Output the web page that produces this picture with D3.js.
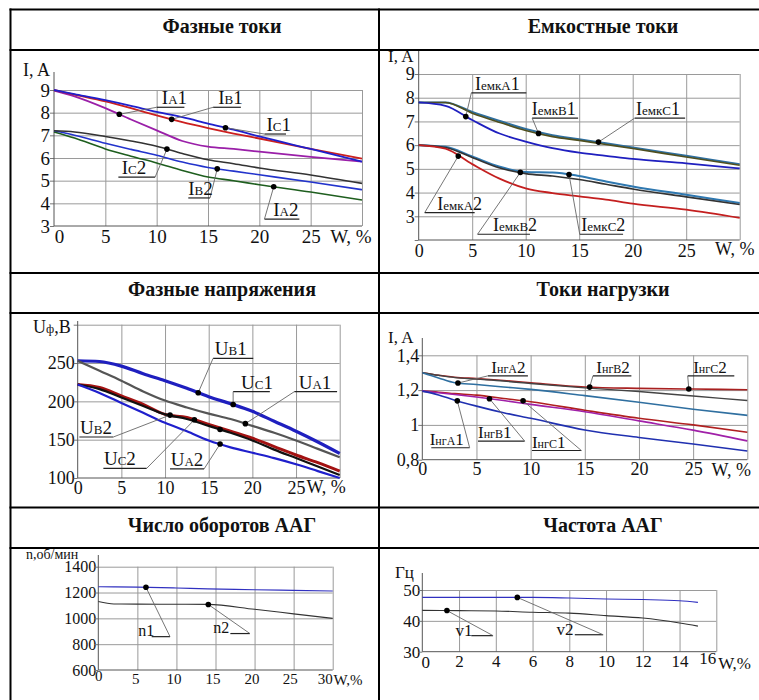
<!DOCTYPE html>
<html>
<head>
<meta charset="utf-8">
<script src="https://cdnjs.cloudflare.com/ajax/libs/d3/7.8.5/d3.min.js"></script>
<style>
  body { margin: 0; background: #fff; }
  #chart text { font-family: "Liberation Serif", "DejaVu Serif", "Times New Roman", serif !important; fill: #111; }
</style>
</head>
<body>
<svg id="chart" width="759" height="700" font-family="Liberation Serif, DejaVu Serif, serif"></svg>
<script>
// ---------- data ----------
// Фазные токи
const phaseW = [0, 2, 5, 7.5, 10, 12.5, 15, 17.5, 20, 25, 30];
const phaseIA1 = [8.97, 8.72, 8.2, 7.7, 7.22, 6.75, 6.5, 6.4, 6.28, 6.05, 5.84];
const phaseIB1 = [9.0, 8.8, 8.5, 8.2, 7.88, 7.58, 7.32, 7.08, 6.86, 6.4, 5.97];
const phaseIC1 = [9.0, 8.82, 8.55, 8.3, 8.03, 7.8, 7.52, 7.25, 6.95, 6.4, 5.84];
const phaseIA2 = [7.15, 6.88, 6.4, 6.08, 5.78, 5.45, 5.16, 5.0, 4.82, 4.5, 4.15];
const phaseIB2 = [7.2, 7.0, 6.65, 6.38, 6.12, 5.82, 5.58, 5.42, 5.26, 4.94, 4.6];
const phaseIC2 = [7.2, 7.15, 6.95, 6.75, 6.52, 6.2, 5.92, 5.75, 5.56, 5.25, 4.88];

// Емкостные токи
const capW = [0, 2.5, 5, 7.5, 10, 12.5, 15, 17.5, 20, 25, 30];
const capC1 = [7.8, 7.8, 7.4, 7.03, 6.68, 6.42, 6.25, 6.08, 5.9, 5.55, 5.2];
const capB1 = [7.8, 7.8, 7.35, 6.97, 6.62, 6.36, 6.2, 6.03, 5.86, 5.5, 5.15];
const capA1 = [7.8, 7.66, 7.06, 6.5, 6.15, 5.87, 5.68, 5.55, 5.42, 5.23, 5.02];
const capC2 = [6.0, 5.93, 5.52, 5.1, 4.87, 4.85, 4.7, 4.47, 4.26, 3.91, 3.56];
const capB2 = [6.0, 5.9, 5.48, 5.05, 4.8, 4.7, 4.55, 4.35, 4.15, 3.82, 3.5];
const capA2 = [6.0, 5.85, 5.2, 4.6, 4.18, 3.98, 3.84, 3.7, 3.53, 3.28, 2.93];

// Фазные напряжения
const voltW = [0, 2.5, 5, 7.5, 10, 12.5, 15, 17.5, 20, 22.5, 25, 27.5, 30];
const voltU1 = [253, 252, 246, 236, 227, 217, 206, 197, 187, 174, 161, 147, 132];
const voltUA1 = [253, 240, 227, 213, 201, 192, 184, 177, 168, 159, 149, 138, 127];
const voltUB2 = [222, 218, 207, 196, 183, 179, 170, 161, 152, 141, 130, 120, 109];
const voltUC2 = [222, 216, 205, 194, 183, 177, 168, 159, 149, 137, 126, 115, 104];
const voltUA2 = [222, 211, 198, 185, 172, 161, 149, 140, 133, 126, 118, 109, 100];

// Токи нагрузки
const loadW = [0, 1.5, 3, 5, 7.5, 10, 15, 20, 25, 30];
const loadC2 = [1.30, 1.285, 1.274, 1.266, 1.255, 1.242, 1.218, 1.21, 1.206, 1.202];
const loadB2 = [1.30, 1.285, 1.272, 1.263, 1.252, 1.238, 1.213, 1.192, 1.166, 1.14];
const loadA2 = [1.30, 1.27, 1.242, 1.232, 1.218, 1.204, 1.168, 1.13, 1.09, 1.055];
const loadC1 = [1.194, 1.188, 1.18, 1.171, 1.152, 1.133, 1.084, 1.038, 1.0, 0.958];
const loadB1 = [1.194, 1.185, 1.175, 1.16, 1.14, 1.118, 1.076, 1.023, 0.97, 0.908];
const loadA1 = [1.194, 1.172, 1.142, 1.108, 1.07, 1.038, 0.971, 0.928, 0.89, 0.85];

// Число оборотов ААГ
const revW = [0, 2, 5, 10, 14, 20, 25, 30];
const revN1 = [1245, 1244, 1242, 1235, 1228, 1222, 1217, 1212];
const revN2 = [1130, 1111, 1110, 1109, 1108, 1070, 1035, 1000];

// Частота ААГ
const freqW = [0, 2, 4, 6, 8, 10, 12, 14, 15];
const freqV2 = [47.6, 47.6, 47.6, 47.6, 47.4, 47.1, 46.9, 46.5, 46.0];
const freqV1 = [43.4, 43.3, 43.2, 42.8, 42.5, 41.7, 40.9, 39.3, 38.3];

// ticks
const ticksW30 = [0, 5, 10, 15, 20, 25, 30];
const ticksW16 = [0, 2, 4, 6, 8, 10, 12, 14, 16];
const phaseTicksI = [3, 4, 5, 6, 7, 8, 9];
const capTicksI = [2, 3, 4, 5, 6, 7, 8, 9];
const voltTicksU = [100, 150, 200, 250, 300];
const loadTicksI = [0.8, 1.0, 1.2, 1.4];
const revTicksN = [600, 800, 1000, 1200, 1400];
const freqTicksF = [30, 40, 50];

// ---------- drawing ----------
const svg = d3.select('#chart');

function textParts(sel, parts, big, small) {
  parts.forEach(([s, isSmall]) => {
    sel.append('tspan').attr('font-size', isSmall ? small : big).text(s);
  });
}

function interp(xs, ys, w) {
  for (let i = 1; i < xs.length; i++) {
    if (w <= xs[i]) {
      const t = (w - xs[i - 1]) / (xs[i] - xs[i - 1]);
      return ys[i - 1] + t * (ys[i] - ys[i - 1]);
    }
  }
  return ys[ys.length - 1];
}

function drawPanel(p) {
  const x = d3.scaleLinear().domain(p.xDomain).range(p.xRange);
  const y = d3.scaleLinear().domain(p.yDomain).range(p.yRange);
  const w = p.xRange[1] - p.xRange[0], h = p.yRange[0] - p.yRange[1];
  const g = svg.append('g');

  // title
  svg.append('text').attr('x', p.titleX).attr('y', p.titleY)
    .attr('text-anchor', 'middle').attr('font-weight', 'bold').attr('font-size', 20)
    .text(p.title);

  // y axis: grid + labels
  const ya = g.append('g').attr('transform', `translate(${p.xRange[0]},0)`)
    .call(d3.axisLeft(y).tickValues(p.yTicks).tickSize(-w).tickPadding(p.yPad)
      .tickFormat(d => p.yLabelled.includes(d) ? p.yFmt(d) : ''));
  ya.attr('font-size', null).attr('font-family', null);
  ya.select('.domain').remove();
  ya.selectAll('.tick line').attr('stroke', d => d === p.yDomain[0] ? 'none' : '#9a9a9a');
  ya.selectAll('.tick').append('line').attr('x2', -4).attr('stroke', '#777');
  ya.selectAll('.tick text').style('font-size', p.fsY + 'px');

  // x axis: grid + labels
  const xa = g.append('g').attr('transform', `translate(0,${p.yRange[0]})`)
    .call(d3.axisBottom(x).tickValues(p.xTicks).tickSize(-h).tickPadding(p.xPad)
      .tickFormat(d => p.xLabelled.includes(d) ? d : ''));
  xa.attr('font-size', null).attr('font-family', null);
  xa.select('.domain').remove();
  xa.selectAll('.tick line').attr('stroke', d => d === p.xDomain[0] ? 'none' : '#9a9a9a');
  xa.selectAll('.tick text').style('font-size', p.fsX + 'px')
    .attr('dx', d => (p.xShift[d] || [0, 0])[0])
    .attr('y', d => p.xPad + (p.xShift[d] || [0, 0])[1]);

  // axis lines
  g.append('line').attr('x1', p.xRange[0]).attr('x2', p.xRange[0])
    .attr('y1', p.yRange[0]).attr('y2', p.axisTop).attr('stroke', '#555');
  g.append('line').attr('x1', p.xRange[0]).attr('x2', p.xRange[1])
    .attr('y1', p.yRange[0]).attr('y2', p.yRange[0]).attr('stroke', '#555');

  // axis titles
  const yl = g.append('text').attr('x', p.yTitle[1]).attr('y', p.yTitle[2]);
  textParts(yl, p.yTitle[0], p.fsT, p.fsT * 0.7);
  g.append('text').attr('x', x(p.unitW)).attr('y', p.yRange[0] + p.unitDy)
    .style('font-size', p.fsX + 'px').text(p.unit);

  // series
  const line = d3.line().x(d => x(d[0])).y(d => y(d[1])).curve(d3.curveMonotoneX);
  p.series.forEach(s => {
    g.append('path').datum(p.w.map((ww, i) => [ww, s.v[i]]))
      .attr('d', line).attr('fill', 'none')
      .attr('stroke', s.c).attr('stroke-width', s.sw)
      .attr('stroke-linejoin', 'round');
  });

  // labels with leader lines
  p.labels.forEach(l => {
    const dx = x(l.dot[1]);
    const dy = y(interp(p.w, p.series[l.dot[0]].v, l.dot[1]));
    if (l.t) {
      const tx = x(l.at[0]), ty = y(l.at[1]);
      const uy = ty + p.ulOff;
      g.append('line').attr('x1', x(l.ul[0])).attr('x2', x(l.ul[1]))
        .attr('y1', uy).attr('y2', uy).attr('stroke', '#222').attr('stroke-width', 1.2);
      g.append('line').attr('x1', dx).attr('y1', dy)
        .attr('x2', x(l.ul[l.end])).attr('y2', uy)
        .attr('stroke', '#666').attr('stroke-width', 0.9);
      const t = g.append('text').attr('x', tx).attr('y', ty);
      textParts(t, l.t, p.fsL, p.fsS);
    }
    g.append('circle').attr('cx', dx).attr('cy', dy).attr('r', 2.8).attr('fill', '#000');
  });
}

const lab = (main, sub, num) => [[main, 0], [sub, 1], [num, 0]];
const labEmk = (ph, num) => [['I', 0], ['емк', 1], [ph, 1], [num, 0]];
const labNg = (ph, num) => [['I', 0], ['нг', 1], [ph, 1], [num, 0]];

const panels = [
  {
    title: 'Фазные токи', titleX: 222, titleY: 33,
    xRange: [54, 362], yRange: [226, 90], xDomain: [0, 30], yDomain: [3, 9], axisTop: 72,
    xTicks: ticksW30, xLabelled: [0, 5, 10, 15, 20, 25], yTicks: phaseTicksI, yLabelled: phaseTicksI,
    yFmt: d => d, yPad: 4, xPad: 4, xShift: {0: [5, 0]}, fsX: 19, fsY: 19, fsT: 18, fsL: 19, fsS: 13, ulOff: 3,
    yTitle: [[['I, A', 0]], 23, 76], unit: 'W, %', unitW: 26.9, unitDy: 17,
    w: phaseW,
    series: [
      {v: phaseIA1, c: '#9a1fa8', sw: 1.8},
      {v: phaseIB1, c: '#cc1f1f', sw: 1.8},
      {v: phaseIC1, c: '#1f1fcc', sw: 1.8},
      {v: phaseIA2, c: '#1e5e1e', sw: 1.6},
      {v: phaseIB2, c: '#2233cc', sw: 1.6},
      {v: phaseIC2, c: '#333333', sw: 1.6}
    ],
    labels: [
      {t: lab('I', 'A', '1'), at: [10.5, 8.37], ul: [10.0, 12.7], end: 0, dot: [0, 6.36]},
      {t: lab('I', 'B', '1'), at: [16.0, 8.37], ul: [15.5, 18.2], end: 0, dot: [1, 11.46]},
      {t: lab('I', 'C', '1'), at: [20.7, 7.19], ul: [20.5, 22.6], end: 0, dot: [2, 16.7]},
      {t: lab('I', 'C', '2'), at: [6.59, 5.29], ul: [6.27, 9.85], end: 1, dot: [5, 11]},
      {t: lab('I', 'B', '2'), at: [13.08, 4.37], ul: [13.08, 15.2], end: 1, dot: [4, 15.9]},
      {t: lab('I', 'A', '2'), at: [21.36, 3.44], ul: [20.5, 23.9], end: 0, dot: [3, 21.4]}
    ]
  },
  {
    title: 'Емкостные токи', titleX: 603, titleY: 33,
    xRange: [418.7, 739.7], yRange: [240, 74], xDomain: [0, 30], yDomain: [2, 9], axisTop: 50,
    xTicks: ticksW30, xLabelled: [0, 5, 10, 15, 20, 25], yTicks: capTicksI, yLabelled: [3, 4, 5, 6, 7, 8, 9],
    yFmt: d => d, yPad: 4, xPad: 4, xShift: {}, fsX: 18, fsY: 18, fsT: 17, fsL: 18, fsS: 13, ulOff: 3,
    yTitle: [[['I, A', 0]], 388, 62], unit: 'W, %', unitW: 27.7, unitDy: 15,
    w: capW,
    series: [
      {v: capC1, c: '#2f6f9f', sw: 2},
      {v: capB1, c: '#4f4f1f', sw: 1.6},
      {v: capA1, c: '#1f1fbf', sw: 1.8},
      {v: capC2, c: '#2f78b0', sw: 2},
      {v: capB2, c: '#333333', sw: 1.6},
      {v: capA2, c: '#c41f1f', sw: 1.8}
    ],
    labels: [
      {t: labEmk('A', '1'), at: [5.26, 8.33], ul: [4.92, 10.06], end: 0, dot: [2, 4.4]},
      {t: labEmk('B', '1'), at: [10.56, 7.27], ul: [10.6, 14.9], end: 0, dot: [1, 11.2]},
      {t: labEmk('C', '1'), at: [20.3, 7.27], ul: [20.2, 24.9], end: 0, dot: [0, 16.8]},
      {t: labEmk('A', '2'), at: [1.74, 3.28], ul: [0.56, 5.23], end: 0, dot: [5, 3.7]},
      {t: labEmk('B', '2'), at: [6.95, 2.37], ul: [5.5, 10.4], end: 0, dot: [4, 9.5]},
      {t: labEmk('C', '2'), at: [15.2, 2.37], ul: [15.05, 19.1], end: 0, dot: [3, 14.05]}
    ]
  },
  {
    title: 'Фазные напряжения', titleX: 222, titleY: 296,
    xRange: [77.7, 339.7], yRange: [478, 324.7], xDomain: [0, 30], yDomain: [100, 300], axisTop: 321,
    xTicks: ticksW30, xLabelled: [0, 5, 10, 15, 20, 25], yTicks: voltTicksU, yLabelled: [100, 150, 200, 250],
    yFmt: d => d, yPad: 3, xPad: 3, xShift: {}, fsX: 18, fsY: 18, fsT: 18, fsL: 19, fsS: 13, ulOff: 3,
    yTitle: [[['U', 0], ['ф', 1], [',B', 0]], 33, 333], unit: 'W, %', unitW: 26.2, unitDy: 15,
    w: voltW,
    series: [
      {v: voltU1, c: '#1f1fbf', sw: 3.2},
      {v: voltUA1, c: '#555555', sw: 2.2},
      {v: voltUB2, c: '#a31212', sw: 3},
      {v: voltUC2, c: '#111111', sw: 2.2},
      {v: voltUA2, c: '#1f1fcc', sw: 2.2}
    ],
    labels: [
      {t: lab('U', 'B', '1'), at: [15.7, 260], ul: [15.5, 20.1], end: 0, dot: [0, 13.8]},
      {t: lab('U', 'C', '1'), at: [18.7, 216.5], ul: [17.8, 22.0], end: 0, dot: [0, 17.8]},
      {t: lab('U', 'A', '1'), at: [25.3, 216.5], ul: [24.8, 29.7], end: 0, dot: [1, 19.2]},
      {t: lab('U', 'B', '2'), at: [0.27, 157.4], ul: [0.19, 4.08], end: 1, dot: [2, 10.57]},
      {t: lab('U', 'C', '2'), at: [3.0, 116.5], ul: [2.94, 7.9], end: 1, dot: [2, 13.36]},
      {t: lab('U', 'A', '2'), at: [10.65, 115.7], ul: [10.57, 14.47], end: 1, dot: [4, 16.3]},
      {t: null, dot: [3, 16.3]}
    ]
  },
  {
    title: 'Токи нагрузки', titleX: 603, titleY: 296,
    xRange: [422.3, 747.3], yRange: [459.7, 355.3], xDomain: [0, 30], yDomain: [0.8, 1.4], axisTop: 338,
    xTicks: ticksW30, xLabelled: [0, 5, 10, 15, 20, 25], yTicks: loadTicksI, yLabelled: loadTicksI,
    yFmt: d => String(d).replace('.', ','), yPad: 3, xPad: 3, xShift: {}, fsX: 18, fsY: 18, fsT: 17, fsL: 17, fsS: 12, ulOff: 3,
    yTitle: [[['I, A', 0]], 388, 343], unit: 'W, %', unitW: 26.7, unitDy: 16,
    w: loadW,
    series: [
      {v: loadC2, c: '#a82020', sw: 1.6},
      {v: loadB2, c: '#444444', sw: 1.4},
      {v: loadA2, c: '#2f6fa0', sw: 1.6},
      {v: loadC1, c: '#b02020', sw: 1.6},
      {v: loadB1, c: '#a020a8', sw: 1.6},
      {v: loadA1, c: '#2030b0', sw: 1.6}
    ],
    labels: [
      {t: labNg('A', '2'), at: [6.37, 1.299], ul: [6.06, 9.75], end: 0, dot: [2, 3.29]},
      {t: labNg('B', '2'), at: [16.06, 1.299], ul: [15.75, 19.3], end: 0, dot: [0, 15.45]},
      {t: labNg('C', '2'), at: [25.0, 1.299], ul: [24.5, 28.8], end: 0, dot: [0, 24.6]},
      {t: labNg('A', '1'), at: [0.68, 0.886], ul: [0.83, 4.37], end: 1, dot: [5, 3.23]},
      {t: labNg('B', '1'), at: [5.14, 0.924], ul: [5.14, 9.45], end: 1, dot: [4, 6.2]},
      {t: labNg('C', '1'), at: [10.12, 0.87], ul: [10.12, 14.68], end: 1, dot: [3, 9.3]}
    ]
  },
  {
    title: 'Число оборотов ААГ', titleX: 222, titleY: 532,
    xRange: [98.3, 332.7], yRange: [670, 566.7], xDomain: [0, 30], yDomain: [600, 1400], axisTop: 555,
    xTicks: ticksW30, xLabelled: ticksW30, yTicks: revTicksN, yLabelled: revTicksN,
    yFmt: d => d, yPad: 2, xPad: 3, xShift: {0: [0, -3], 5: [-2, 0], 10: [-3, 0], 15: [-3, 0], 20: [-3, 0], 25: [-4, 0], 30: [-8, 0]},
    fsX: 15, fsY: 16, fsT: 14, fsL: 16, fsS: 16, ulOff: 1,
    yTitle: [[['n,об/мин', 0]], 26, 559], unit: 'W,%', unitW: 30.1, unitDy: 15,
    w: revW,
    series: [
      {v: revN1, c: '#3030c0', sw: 1.1},
      {v: revN2, c: '#333333', sw: 1.1}
    ],
    labels: [
      {t: [['n1', 0]], at: [5.12, 866], ul: [6.83, 9.18], end: 1, dot: [0, 6.1]},
      {t: [['n2', 0]], at: [14.7, 890], ul: [16.9, 19.4], end: 1, dot: [1, 14.08]}
    ]
  },
  {
    title: 'Частота ААГ', titleX: 603, titleY: 532,
    xRange: [422.3, 716.3], yRange: [651.7, 590], xDomain: [0, 16], yDomain: [30, 50], axisTop: 573,
    xTicks: ticksW16, xLabelled: ticksW16, yTicks: freqTicksF, yLabelled: freqTicksF,
    yFmt: d => d, yPad: 2, xPad: 3, xShift: {0: [3, 1], 16: [-9, -3]},
    fsX: 17, fsY: 17, fsT: 17, fsL: 17, fsS: 17, ulOff: 0,
    yTitle: [[['Гц', 0]], 395, 578], unit: 'W,%', unitW: 16.1, unitDy: 17,
    w: freqW,
    series: [
      {v: freqV2, c: '#3030c0', sw: 1.1},
      {v: freqV1, c: '#333333', sw: 1.1}
    ],
    labels: [
      {t: [['v1', 0]], at: [1.8, 35.2], ul: [2.67, 3.85], end: 1, dot: [1, 1.34]},
      {t: [['v2', 0]], at: [7.3, 35.5], ul: [8.3, 9.84], end: 1, dot: [0, 5.17]}
    ]
  }
];

panels.forEach(drawPanel);

// table frame
const frameRows = [9.5, 50, 273, 313, 507.5, 548];
const frameCols = [10.5, 379];
frameRows.forEach(yy => svg.append('line')
  .attr('x1', 9.5).attr('x2', 759).attr('y1', yy).attr('y2', yy)
  .attr('stroke', '#000').attr('stroke-width', 2));
frameCols.forEach(xx => svg.append('line')
  .attr('x1', xx).attr('x2', xx).attr('y1', 8.5).attr('y2', 700)
  .attr('stroke', '#000').attr('stroke-width', 2));
</script>
</body>
</html>
